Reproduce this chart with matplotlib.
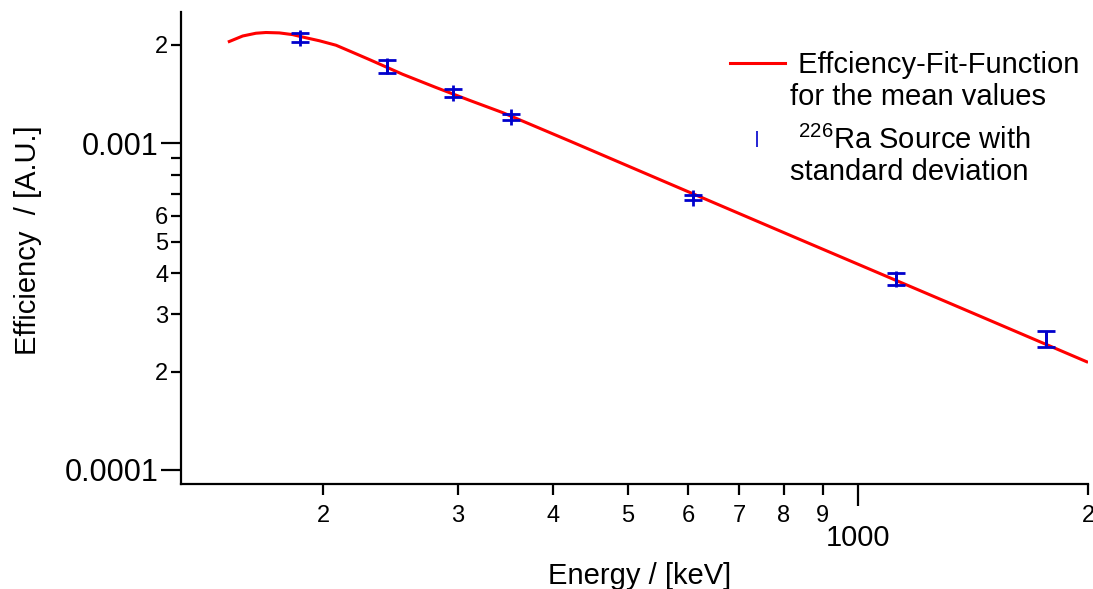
import numpy as np
import matplotlib
matplotlib.use('Agg')
import matplotlib.pyplot as plt
from matplotlib.lines import Line2D
from matplotlib.ticker import FixedLocator, FixedFormatter

plt.rcParams['font.family'] = ['Liberation Sans', 'DejaVu Sans']
plt.rcParams['mathtext.fontset'] = 'custom'
plt.rcParams['mathtext.rm'] = 'Liberation Sans'
plt.rcParams['mathtext.it'] = 'Liberation Sans:italic'
plt.rcParams['mathtext.bf'] = 'Liberation Sans:bold'

# measured points (Ra-226 gamma lines)
energy = [186.2, 242.0, 295.2, 351.9, 609.3, 1120.3, 1764.5]
eff = [0.002104, 0.001720, 0.001427, 0.001201, 0.000681, 0.0003843, 0.0002519]
eff_err = [0.00007, 0.00008, 0.00004, 0.000025, 0.000012, 0.000015, 0.000014]

# fit curve
fit_energy = [150.7, 156.9, 163.3, 168.3, 175.2, 182.3, 187.7, 197.6, 207.8,
              218.3, 229.7, 253.8, 280.9, 310.5, 343.0, 419.8, 550.7, 822.8,
              1360.0, 1992.0]
fit_eff = [0.002047, 0.002128, 0.002170, 0.002181, 0.002175, 0.002149, 0.002114,
           0.002058, 0.001994, 0.001898, 0.001803, 0.001626, 0.001480, 0.001353,
           0.001241, 0.001016, 0.000774, 0.000518, 0.000314, 0.0002144]

x_minor = [200, 300, 400, 500, 600, 700, 800, 900, 2000]
x_minor_labels = ['2', '3', '4', '5', '6', '7', '8', '9', '2']
y_minor = [2e-4, 3e-4, 4e-4, 5e-4, 6e-4, 7e-4, 8e-4, 9e-4, 2e-3]
y_minor_labels = ['2', '3', '4', '5', '6', '', '', '', '2']

blue = '#0000CC'
red = '#FF0000'

fig = plt.figure(figsize=(10.93, 5.89), dpi=100)
ax = fig.add_axes([181/1093, 1-484/589, 907/1093, 472/589])

ax.plot(fit_energy, fit_eff, color=red, lw=2.2, zorder=2)
ax.errorbar(energy, eff, yerr=eff_err, fmt='|', color=blue, ms=12, mew=2,
            elinewidth=2, capsize=6.5, capthick=3, zorder=3)

ax.set_xscale('log')
ax.set_yscale('log')
ax.set_xlim(130.3, 2000)
ax.set_ylim(9.06e-5, 0.00252)

ax.xaxis.set_major_locator(FixedLocator([1000]))
ax.xaxis.set_major_formatter(FixedFormatter(['1000']))
ax.xaxis.set_minor_locator(FixedLocator(x_minor))
ax.xaxis.set_minor_formatter(FixedFormatter(x_minor_labels))
ax.yaxis.set_major_locator(FixedLocator([1e-4, 1e-3]))
ax.yaxis.set_major_formatter(FixedFormatter(['0.0001', '0.001']))
ax.yaxis.set_minor_locator(FixedLocator(y_minor))
ax.yaxis.set_minor_formatter(FixedFormatter(y_minor_labels))

for s in ['top', 'right']:
    ax.spines[s].set_visible(False)
for s in ['left', 'bottom']:
    ax.spines[s].set_linewidth(1.6)

ax.tick_params(axis='x', which='major', direction='out', length=16, width=1.6,
               labelsize=21, pad=13)
ax.tick_params(axis='x', which='minor', direction='out', length=8, width=1.6,
               labelsize=17, pad=7)
ax.tick_params(axis='y', which='major', direction='out', length=14.4, width=1.6,
               labelsize=22, pad=2)
ax.tick_params(axis='y', which='minor', direction='out', length=7.2, width=1.6,
               labelsize=17, pad=2)

ax.set_xlabel('Energy / [keV]', fontsize=21)
ax.set_ylabel('Efficiency  / [A.U.]', fontsize=21)
ax.xaxis.set_label_coords((640-181)/907, (484-562)/472)
ax.yaxis.set_label_coords((42-181)/907, (484-240)/472)

leg_kw = dict(loc='upper left', frameon=False, fontsize=21, handlelength=1.9,
              handletextpad=0.17, borderpad=0, borderaxespad=0, labelspacing=0.12)
leg1 = ax.legend([Line2D([], [], color=red, lw=2.2), Line2D([], [], linestyle='none')],
                 [' Effciency-Fit-Function', 'for the mean values'],
                 bbox_to_anchor=(0.605, 0.917), **leg_kw)
ax.add_artist(leg1)
ax.legend([Line2D([], [], linestyle='none', marker='|', color=blue, ms=12, mew=1.2),
           Line2D([], [], linestyle='none')],
          [' $^{226}$Ra Source with', 'standard deviation'],
          bbox_to_anchor=(0.605, 0.759), **leg_kw)

fig.savefig('out.png', dpi=100)
